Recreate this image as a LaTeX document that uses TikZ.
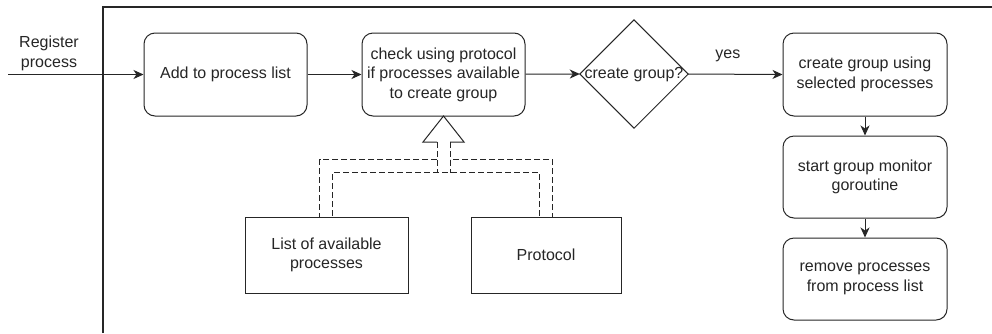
\documentclass[tikz,border=0pt]{standalone}
\usepackage{fontspec}
\setmainfont{Liberation Sans}
\usetikzlibrary{arrows.meta}
\begin{document}
\begin{tikzpicture}[x=1pt,y=-1pt,
  every node/.style={font=\fontsize{16}{19.5}\selectfont, text=black!85, align=center},
  line/.style={draw=black!85, line width=1pt},
  flow/.style={line, -{Stealth[length=10pt,width=9pt,inset=3pt]}},
  stepbox/.style={line, rectangle, rounded corners=11pt, inner sep=0pt},
  plainbox/.style={line, rectangle, inner sep=0pt},
  hollow/.style={draw=black!85, line width=1pt, dash pattern=on 6pt off 3pt},
  hollowhead/.style={draw=black!85, line width=1pt, line join=miter},
  frame/.style={draw=black!85, line width=1.2pt}
]
\useasboundingbox (0,0) rectangle (992,333);
\fill[white] (0,0) rectangle (992,333);

% outer frame (runs off the right and bottom edges)
\draw[frame] (103,333) -- (103,7) -- (992,7);

% main flow
\node[stepbox, minimum width=163pt, minimum height=83pt] (add) at (225.5,74.5) {Add to process list};
\node[stepbox, minimum width=163pt, minimum height=83pt] (check) at (443.5,74.5)
  {check using protocol\\if processes available\\to create group};
\node[minimum width=108pt, minimum height=108pt, inner sep=0pt] (dec) at (634,74) {};
\draw[line] (dec.north) -- (dec.east) -- (dec.south) -- (dec.west) -- cycle;
\node[inner sep=0pt] (dectext) at (634,75) {create group?};

\node[stepbox, minimum width=164pt, minimum height=83pt] (grp) at (865,74.5)
  {create group using\\selected processes};
\node[stepbox, minimum width=164pt, minimum height=82pt] (mon) at (865,177)
  {start group monitor\\goroutine};
\node[stepbox, minimum width=164pt, minimum height=82pt] (rem) at (865,279)
  {remove processes\\from process list};

% inputs
\node[plainbox, minimum width=163pt, minimum height=76pt] (list) at (326.5,255)
  {List of available\\processes};
\node[plainbox, minimum width=150pt, minimum height=76pt] (proto) at (546,255) {Protocol};

% entry
\coordinate (entry) at (8,74.5);
\node (reglabel) at (49,53.5) {Register\\process};
\draw[flow] (entry) -- (add.west);

\draw[flow] (add) -- (check);
\draw[flow] (check) -- (dec.west);
\draw[flow] (dec.east) -- node[above=9pt, pos=0.42] (yes) {yes} (grp.west);
\draw[flow] (grp) -- (mon);
\draw[flow] (mon) -- (rem);

% hollow dashed arrows from the inputs into the check step
\draw[hollow] (437,142) -- (437,172.5) (450,142) -- (450,172.5);
\draw[hollow] (437,159.5) -- (319.5,159.5) -- (319.5,217) -- (332.5,217) -- (332.5,172.5)
  -- (539.5,172.5) -- (539.5,217) -- (552.5,217) -- (552.5,159.5) -- (450,159.5);
% shared head
\draw[hollowhead] (437,142) -- (423,142) -- (443.5,116) -- (464,142) -- (450,142);
\end{tikzpicture}
\end{document}
